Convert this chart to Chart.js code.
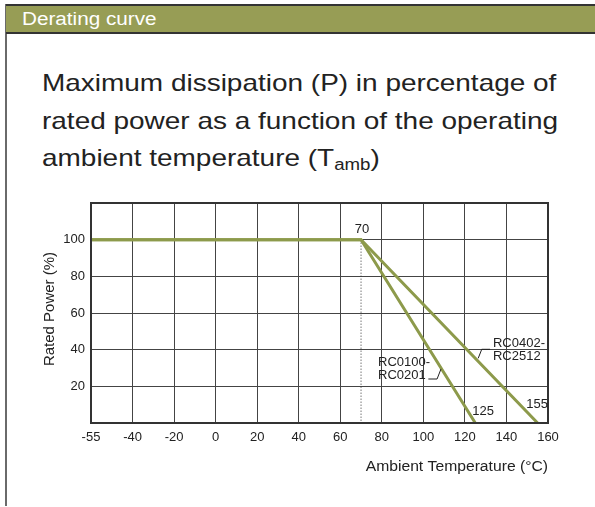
<!DOCTYPE html>
<html>
<head>
<meta charset="utf-8">
<script src="https://cdn.jsdelivr.net/npm/chart.js@4"></script>
<style>
  html, body { margin: 0; padding: 0; background: #fff; }
  body { width: 595px; height: 507px; position: relative; overflow: hidden; font-family: "Liberation Sans", Arial, sans-serif; }
  #edge { position: absolute; left: 5px; top: 4px; width: 2px; height: 502px; background: #6a6a6a; }
  #band { position: absolute; left: 6px; top: 4px; right: 0; height: 26px; background: #979d55;
          border-top: 2px solid #333; border-bottom: 2px solid #333; }
  #band span { position: absolute; left: 16px; top: 2px; color: #fff; font-size: 18px; line-height: 22px;
               transform: scaleX(1.15); transform-origin: left center; white-space: nowrap; }
  #desc { position: absolute; left: 42px; top: 64px; color: #222; font-size: 24px; line-height: 37.5px;
          transform: scaleX(1.165); transform-origin: left top; white-space: nowrap; }
  #desc sub { font-size: 16px; vertical-align: -4px; line-height: 0; }
  canvas { position: absolute; left: 0; top: 0; }
</style>
</head>
<body>
<div id="edge"></div>
<div id="band"><span>Derating curve</span></div>
<div id="desc">Maximum dissipation (P) in percentage of<br>rated power as a function of the operating<br>ambient temperature (T<sub>amb</sub>)</div>
<canvas id="chart" width="595" height="507"></canvas>
<script>
// axis ticks
const tempTicks  = [-55, -40, -20, 0, 20, 40, 60, 80, 100, 120, 140, 160]
const powerTicks = [0, 20, 40, 60, 80, 100, 120]
const powerShown = [20, 40, 60, 80, 100]

// derating curves: temperature (°C) -> rated power (%)
const largeName  = ["RC0402-", "RC2512"]
const largeTemp  = [-55, 70, 155]
const largePower = [100, 100, 0]

const smallName  = ["RC0100-", "RC0201"]
const smallTemp  = [-55, 70, 125]
const smallPower = [100, 100, 0]

const kneeTemp = 70

const GREEN = "#8d9a4b"
const FONT = "'Liberation Sans', Arial, sans-serif"

// the first interval (-55..-40) is drawn as wide as the others
const axisX = (t) => t < -40 ? -40 + (t + 40) * 20 / 15 : t

const curve = (temps, powers) => temps.map((t, i) => ({ x: axisX(t), y: powers[i] }))

const annotations = [
  { text: String(kneeTemp),     x: 70.5,  y: 105.5, align: "center" },
  { text: String(smallTemp[2]), x: 123.5, y: 6.5,   align: "left" },
  { text: String(largeTemp[2]), x: 149.5, y: 10,    align: "left" },
  { text: largeName[0],         x: 133.5, y: 43.6,  align: "left" },
  { text: largeName[1],         x: 133.5, y: 36.4,  align: "left" },
  { text: smallName[0],         x: 78.2,  y: 33.3,  align: "left" },
  { text: smallName[1],         x: 78.2,  y: 25.9,  align: "left" },
]
const leaders = [
  [[132.1, 40.2], [128.1, 40.2], [126.4, 35.3]],
  [[102.4, 24.0], [106.6, 24.0], [108.5, 29.5]],
]

const labelsPlugin = {
  id: "labels",
  afterDatasetsDraw(chart) {
    const { ctx, scales: { x, y }, chartArea } = chart
    ctx.save()

    // full frame round the plot
    ctx.strokeStyle = "#333"
    ctx.lineWidth = 2
    ctx.strokeRect(chartArea.left, chartArea.top, chartArea.right - chartArea.left, chartArea.bottom - chartArea.top)

    ctx.fillStyle = "#222"
    ctx.font = "13px " + FONT
    ctx.textBaseline = "middle"
    annotations.forEach(a => {
      ctx.textAlign = a.align
      ctx.fillText(a.text, x.getPixelForValue(a.x), y.getPixelForValue(a.y))
    })
    ctx.strokeStyle = "#222"
    ctx.lineWidth = 1
    leaders.forEach(pts => {
      ctx.beginPath()
      pts.forEach(([px, py], i) => {
        const X = x.getPixelForValue(px), Y = y.getPixelForValue(py)
        i ? ctx.lineTo(X, Y) : ctx.moveTo(X, Y)
      })
      ctx.stroke()
    })

    // axis titles
    ctx.font = "14px " + FONT
    ctx.textAlign = "right"
    ctx.save()
    ctx.translate(chartArea.right, chartArea.bottom + 44)
    ctx.scale(1.12, 1)
    ctx.fillText("Ambient Temperature (°C)", 0, 0)
    ctx.restore()

    ctx.font = "15px " + FONT
    ctx.textAlign = "center"
    ctx.translate(50, 309)
    ctx.rotate(-Math.PI / 2)
    ctx.fillText("Rated Power (%)", 0, 0)
    ctx.restore()
  },
}

new Chart(document.getElementById("chart"), {
  type: "line",
  data: {
    datasets: [
      { data: curve(largeTemp, largePower), borderColor: GREEN, borderWidth: 3, pointRadius: 0, tension: 0 },
      { data: curve(smallTemp, smallPower), borderColor: GREEN, borderWidth: 3, pointRadius: 0, tension: 0 },
      { data: [ { x: kneeTemp, y: largePower[1] }, { x: kneeTemp, y: 0 } ],
        borderColor: "#333", borderWidth: 1, borderDash: [1, 2], pointRadius: 0 },
    ],
  },
  options: {
    responsive: false,
    animation: false,
    layout: { padding: { top: 203, right: 47, bottom: 44, left: 0 } },
    plugins: { legend: { display: false }, tooltip: { enabled: false } },
    scales: {
      x: {
        type: "linear",
        min: axisX(tempTicks[0]),
        max: tempTicks[tempTicks.length - 1],
        afterBuildTicks: (s) => { s.ticks = tempTicks.map(t => ({ value: axisX(t) })) },
        afterFit: (s) => { s.height = 40 },
        ticks: {
          padding: 7,
          color: "#222",
          font: { family: FONT, size: 13 },
          callback: (v, i) => String(tempTicks[i]),
          maxRotation: 0,
          autoSkip: false,
        },
        grid: { color: "#444", lineWidth: 1, drawTicks: false },
        border: { color: "#333", width: 2 },
      },
      y: {
        min: 0,
        max: 120,
        afterBuildTicks: (s) => { s.ticks = powerTicks.map(v => ({ value: v })) },
        afterFit: (s) => { s.width = 91 },
        ticks: {
          padding: 6,
          color: "#222",
          font: { family: FONT, size: 13 },
          callback: (v) => powerShown.includes(v) ? String(v) : "",
        },
        grid: { color: "#444", lineWidth: 1, drawTicks: false },
        border: { color: "#333", width: 2 },
      },
    },
  },
  plugins: [labelsPlugin],
})
</script>
</body>
</html>
